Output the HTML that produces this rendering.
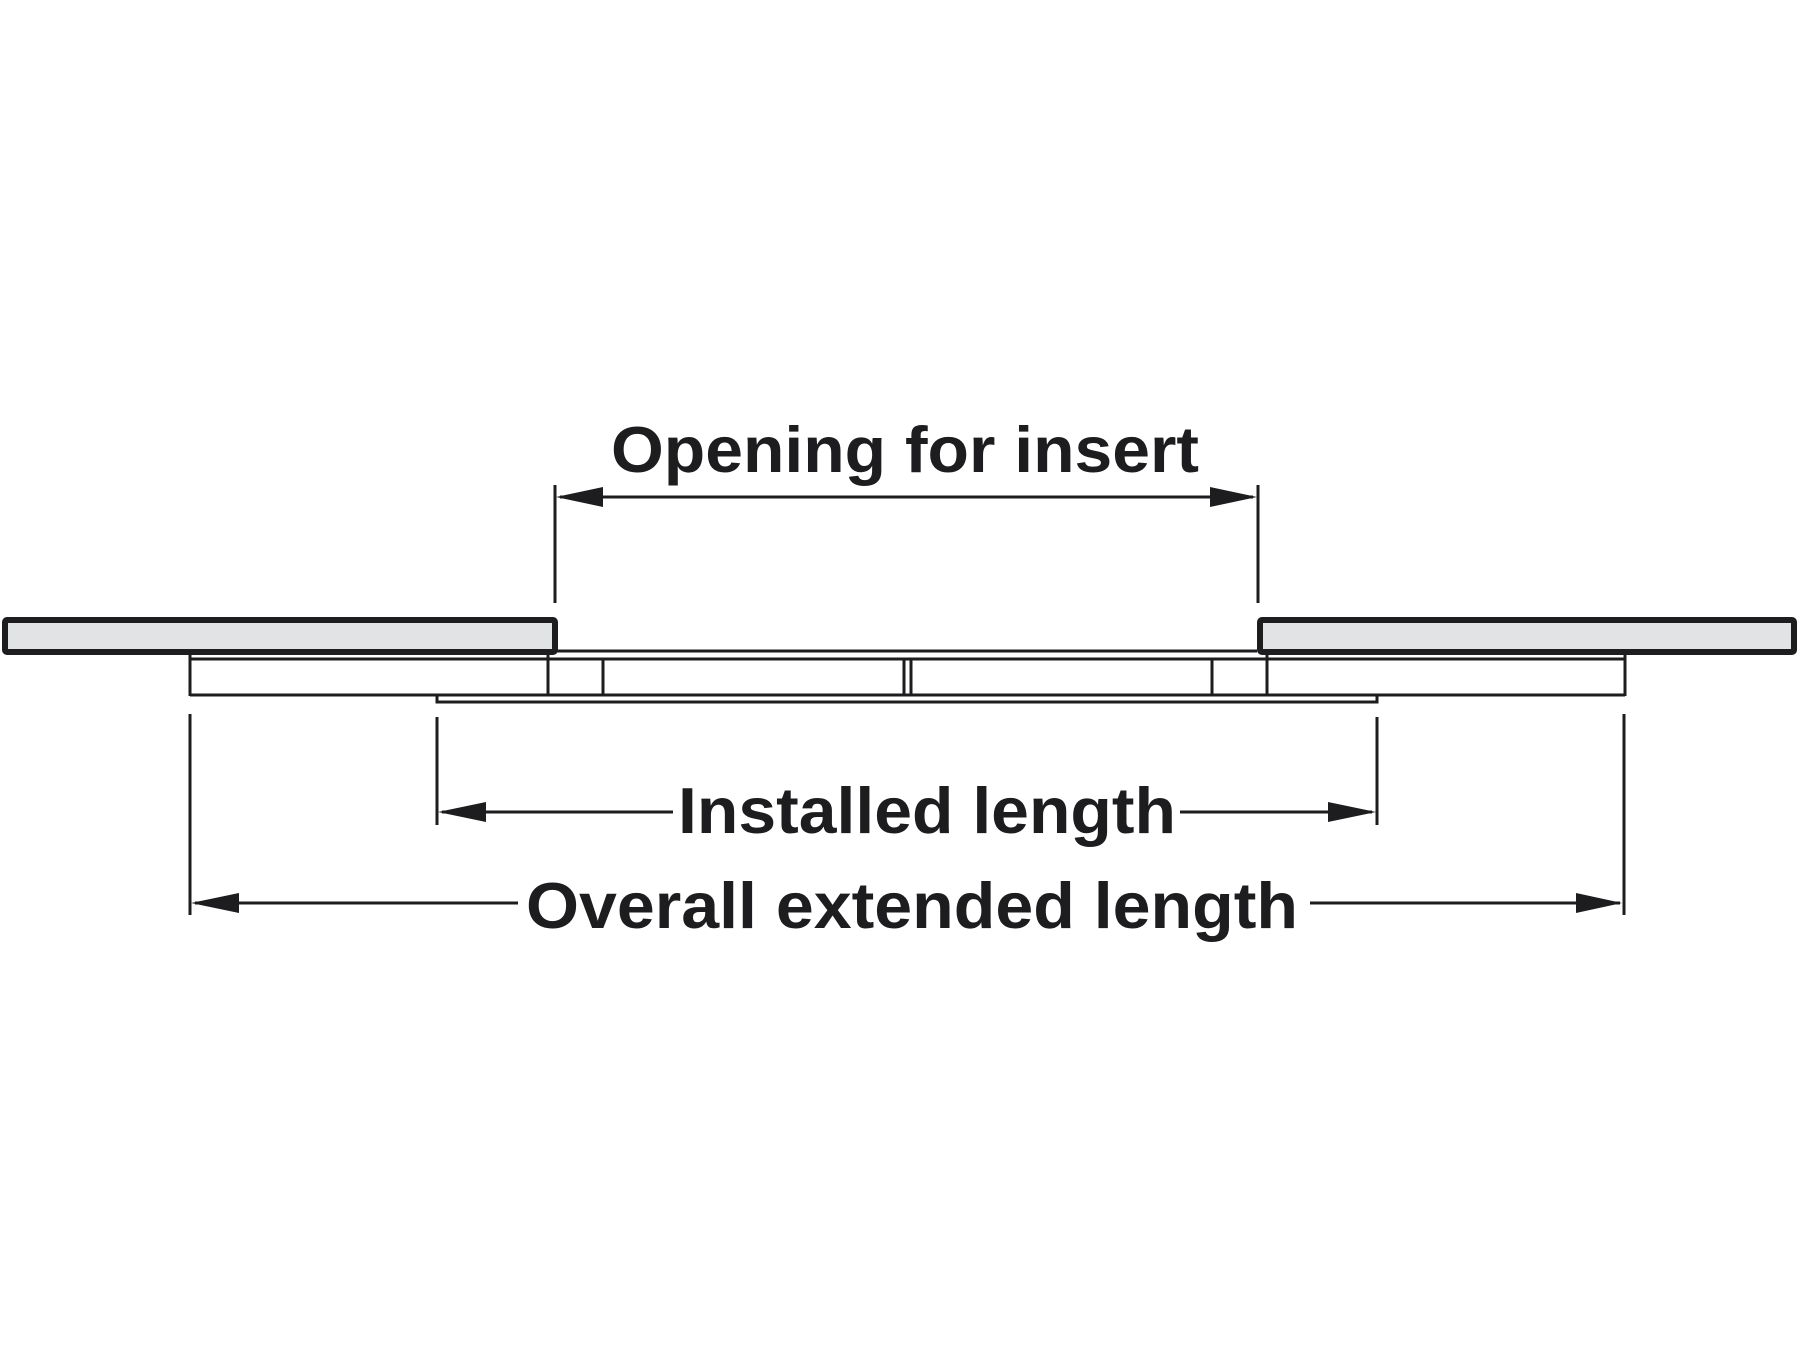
<!DOCTYPE html>
<html><head><style>html,body{margin:0;padding:0;background:#fff;}svg{display:block}</style></head>
<body>
<svg width="1800" height="1350" viewBox="0 0 1800 1350" xmlns="http://www.w3.org/2000/svg">
<g stroke="#1d1d1f" fill="none" stroke-width="3">
  <line x1="556" y1="651" x2="1257" y2="651"/>
  <line x1="190" y1="659" x2="1625" y2="659"/>
  <line x1="190" y1="695" x2="1625" y2="695"/>
  <line x1="190" y1="650" x2="190" y2="696"/>
  <line x1="1625" y1="650" x2="1625" y2="696"/>
  <line x1="548" y1="650" x2="548" y2="695"/>
  <line x1="603" y1="659" x2="603" y2="695"/>
  <line x1="1212" y1="659" x2="1212" y2="695"/>
  <line x1="1267" y1="650" x2="1267" y2="695"/>
  <line x1="904" y1="659" x2="904" y2="695"/>
  <line x1="911" y1="659" x2="911" y2="695"/>
  <polyline points="437,695 437,702 1377,702 1377,695"/>
  <line x1="555" y1="485" x2="555" y2="603"/>
  <line x1="1258" y1="485" x2="1258" y2="603"/>
  <line x1="437" y1="717" x2="437" y2="825"/>
  <line x1="1377" y1="717" x2="1377" y2="825"/>
  <line x1="190" y1="714" x2="190" y2="915"/>
  <line x1="1624" y1="714" x2="1624" y2="915"/>
  <line x1="560" y1="497" x2="1253" y2="497"/>
  <line x1="442" y1="812" x2="673" y2="812"/>
  <line x1="1180" y1="812" x2="1372" y2="812"/>
  <line x1="195" y1="903" x2="518" y2="903"/>
  <line x1="1310" y1="903" x2="1620" y2="903"/>
</g>
<rect x="5" y="620" width="550" height="32" fill="#e2e3e5" stroke="#1d1d1f" stroke-width="6" rx="2"/>
<rect x="1260" y="620" width="534" height="32" fill="#e2e3e5" stroke="#1d1d1f" stroke-width="6" rx="2"/>
<g fill="#1d1d1f">
  <polygon points="556,497 603,487 603,507"/>
  <polygon points="1257,497 1210,487 1210,507"/>
  <polygon points="438,812 486,802 486,822"/>
  <polygon points="1376,812 1328,802 1328,822"/>
  <polygon points="191,903 239,893 239,913"/>
  <polygon points="1622,903 1576,893 1576,913"/>
</g>
<g font-family="Liberation Sans, Arial, sans-serif" font-weight="bold" font-size="65" fill="#1d1d1f">
  <text x="611" y="472" textLength="588" lengthAdjust="spacingAndGlyphs">Opening for insert</text>
  <text x="678" y="833" textLength="498" lengthAdjust="spacingAndGlyphs">Installed length</text>
  <text x="526" y="928" textLength="772" lengthAdjust="spacingAndGlyphs">Overall extended length</text>
</g>
</svg>
</body></html>
